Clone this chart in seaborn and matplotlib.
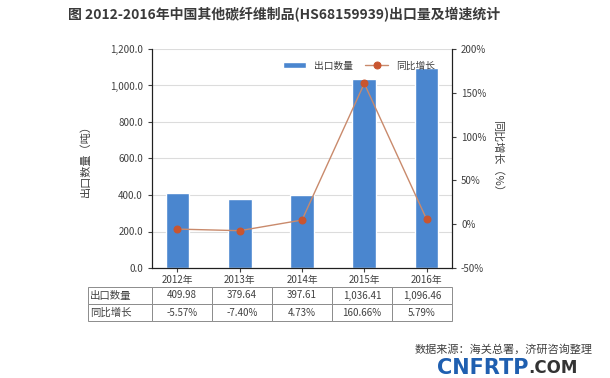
import matplotlib.pyplot as plt
import matplotlib.ticker as mticker
import numpy as np
import pandas as pd
import seaborn as sns

years = ['2012年', '2013年', '2014年', '2015年', '2016年']
volume = [409.98, 379.64, 397.61, 1036.41, 1096.46]
growth = [-5.57, -7.40, 4.73, 160.66, 5.79]
volume_text = ['409.98', '379.64', '397.61', '1,036.41', '1,096.46']
growth_text = ['-5.57%', '-7.40%', '4.73%', '160.66%', '5.79%']

sns.set_theme(style='white')
plt.rcParams['font.family'] = ['Noto Sans CJK SC', 'DejaVu Sans']
plt.rcParams['axes.unicode_minus'] = False

bar_color = '#4a86cf'
line_color = '#c98a6c'
dot_color = '#c9552f'
text_color = '#404040'

df = pd.DataFrame({'year': years, 'volume': volume, 'growth': growth})

fig = plt.figure(figsize=(6.1, 3.78), dpi=100)
ax = fig.add_axes([152 / 610, 1 - 268 / 378, 300 / 610, 219 / 378])

sns.barplot(data=df, x='year', y='volume', color=bar_color, saturation=1,
            width=0.38, ax=ax, label='出口数量')
ax.set_ylim(0, 1200)
ax.yaxis.set_major_locator(mticker.MultipleLocator(200))
ax.yaxis.set_major_formatter(mticker.StrMethodFormatter('{x:,.1f}'))
ax.yaxis.grid(True, color='#dcdcdc', linewidth=0.8)
ax.set_axisbelow(True)
ax.set_xlabel('')
ax.set_ylabel('出口数量（吨）', fontsize=8, color=text_color, labelpad=14)
ax.tick_params(axis='both', labelsize=7, colors=text_color, direction='out',
               length=3, width=0.8, left=True, bottom=True)
ax.tick_params(axis='x', pad=2)
for side in ['left', 'bottom', 'right']:
    ax.spines[side].set_color('#202020')
    ax.spines[side].set_linewidth(0.8)
ax.spines['top'].set_visible(False)

ax2 = ax.twinx()
sns.lineplot(x=np.arange(len(years)), y=growth, ax=ax2, color=line_color,
             linewidth=1.0, marker='o', markersize=5, markerfacecolor=dot_color,
             markeredgecolor=dot_color, label='同比增长')
ax2.set_ylim(-50, 200)
ax2.yaxis.set_major_locator(mticker.MultipleLocator(50))
ax2.yaxis.set_major_formatter(mticker.FuncFormatter(lambda v, p: f'{v:.0f}%'))
ax2.set_ylabel('同比增长（%）', fontsize=8, color=text_color, rotation=270,
               labelpad=12)
ax2.tick_params(axis='y', labelsize=7, colors=text_color, direction='out',
                length=3, width=0.8, right=True)
for side in ['left', 'bottom', 'right']:
    ax2.spines[side].set_color('#202020')
    ax2.spines[side].set_linewidth(0.8)
ax2.spines['top'].set_visible(False)

h1, l1 = ax.get_legend_handles_labels()
h2, l2 = ax2.get_legend_handles_labels()
if ax.get_legend():
    ax.get_legend().remove()
ax2.legend(h1 + h2, l1 + l2, ncol=2, frameon=False, fontsize=7,
           loc='center', bbox_to_anchor=(0.69, 0.925), handlelength=2.4,
           columnspacing=1.2, labelcolor=text_color)

# data table under the chart
cells = [['出口数量'] + volume_text, ['同比增长'] + growth_text]
col_w = np.array([64] + [60] * len(years)) / 364
tbl = ax.table(cellText=cells, colWidths=list(col_w), cellLoc='center',
               bbox=[-64 / 300, -(321 - 268) / 219, 364 / 300, 34 / 219])
tbl.auto_set_font_size(False)
tbl.set_fontsize(7)
for (r, c), cell in tbl.get_celld().items():
    cell.set_edgecolor('#8c8c8c')
    cell.set_linewidth(0.7)
    cell.get_text().set_color(text_color)
    if c == 0:
        cell.get_text().set_horizontalalignment('left')
        cell._loc = 'left'
        cell.PAD = 0.03
        cell.get_text().set_fontsize(7.5)

fig.text(0.466, 0.96, '图 2012-2016年中国其他碳纤维制品(HS68159939)出口量及增速统计',
         ha='center', va='center', fontsize=10, fontweight='bold', color='#3a3a3a')
fig.text(0.972, 1 - 349 / 378, '数据来源：海关总署，济研咨询整理', ha='right',
         va='center', fontsize=8, color=text_color)

# watermark logo
logo = fig.text(437 / 610, 1 - 368 / 378, 'CNFRTP', ha='left', va='center',
                fontsize=15, fontweight='bold', color='#1f5fb0',
                family=['DejaVu Sans'])
fig.canvas.draw()
bb = logo.get_window_extent()
fig.text(bb.x1 / fig.bbox.width, 1 - 368 / 378, '.COM', ha='left', va='center',
         fontsize=12, fontweight='bold', color='#333333', family=['DejaVu Sans'])

fig.savefig('out.png', dpi=100)
